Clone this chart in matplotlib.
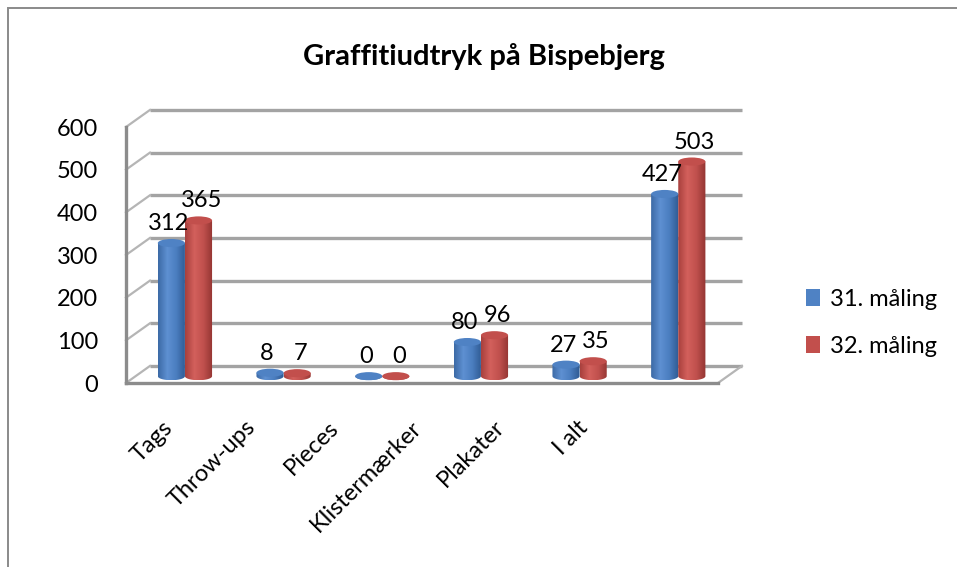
import numpy as np
import matplotlib
matplotlib.use('Agg')
import matplotlib.pyplot as plt
from matplotlib.patches import Ellipse, Rectangle, PathPatch, Patch
from matplotlib.path import Path
from matplotlib.colors import LinearSegmentedColormap

categories = ['Tags', 'Throw-ups', 'Pieces', 'Klistermærker', 'Plakater', 'I alt']
maaling_31 = [312, 8, 0, 80, 27, 427]
maaling_32 = [365, 7, 0, 96, 35, 503]
series_names = ['31. måling', '32. måling']
y_ticks = [0, 100, 200, 300, 400, 500, 600]
title = 'Graffitiudtryk på Bispebjerg'

W, H = 957, 567
plt.rcParams['font.family'] = ['Lato', 'DejaVu Sans']


def fx(px):
    return px / W


def fy(py):
    return 1 - py / H


fig = plt.figure(figsize=(W / 100, H / 100), dpi=100)

# chart area border (only top and left edges are inside the picture)
fig.patches.append(Rectangle((fx(8), -0.1), 1.2, fy(8) + 0.1, transform=fig.transFigure,
                             facecolor='none', edgecolor='#8a8a8a', lw=1.4))

# front plane of the 3d box
ax = fig.add_axes([fx(126), fy(383), fx(718) - fx(126), fy(127) - fy(383)])
n = len(categories)
DX, DY = 0.243, 40      # offset of the back wall, in data units
DEPTH = 0.4             # where the cylinders sit between front and back
GRID = '#a3a3a3'

# back wall gridlines + side wall diagonals
for v in y_ticks:
    ax.plot([DX, n + DX], [v + DY, v + DY], color=GRID, lw=2.4, solid_capstyle='butt',
            zorder=1, clip_on=False)
    ax.plot([0, DX], [v, v + DY], color='#b5b5b5', lw=1.6, zorder=1, clip_on=False)
# left axis and floor
ax.plot([0, 0], [0, y_ticks[-1]], color='#8c8c8c', lw=2.4, zorder=2, clip_on=False)
ax.plot([0, n], [0, 0], color='#8c8c8c', lw=2.4, zorder=5, clip_on=False)
ax.plot([n, n + DX], [0, DY], color='#b5b5b5', lw=1.6, zorder=1, clip_on=False)

blue = LinearSegmentedColormap.from_list('b', ['#3c6aa6', '#5e90d2', '#4a7dbf', '#2f5a92'])
red = LinearSegmentedColormap.from_list('r', ['#a8403d', '#d3605c', '#c0504d', '#933532'])
styles = [(maaling_31, blue, '#4f82c4'), (maaling_32, red, '#c24f4c')]

w = 0.275
eh = 19
base = DEPTH * DY
grad_x = np.linspace(0, 1, 64)


def cylinder(xc, h, cmap, top_col):
    xl, xr = xc - w / 2, xc + w / 2
    t = np.linspace(np.pi, 2 * np.pi, 40)
    verts = list(zip(xc + w / 2 * np.cos(t), base + eh / 2 * np.sin(t)))
    verts += [(xr, base + h), (xl, base + h), verts[0]]
    clip = PathPatch(Path(verts), transform=ax.transData, facecolor='none', edgecolor='none')
    ax.add_patch(clip)
    im = ax.imshow(cmap(grad_x)[None, :, :], extent=[xl, xr, base - eh / 2, base + h],
                   aspect='auto', interpolation='bilinear', zorder=3)
    im.set_clip_path(clip)
    ax.add_patch(Ellipse((xc, base + h), w, eh, facecolor=top_col, edgecolor='none', zorder=3.1))


for s, (vals, cmap, top_col) in enumerate(styles):
    for i, v in enumerate(vals):
        xc = i + 0.5 + (s - 0.5) * w + DEPTH * DX
        cylinder(xc, v, cmap, top_col)
        ax.annotate(str(v), (xc + (s - 0.5) * 0.06, base + v), xytext=(0, 14),
                    textcoords='offset points', ha='center', va='center', fontsize=17, zorder=6)

ax.set_xlim(0, n)
ax.set_ylim(0, y_ticks[-1])
ax.set_xticks([])
ax.set_yticks(y_ticks)
ax.tick_params(axis='y', length=0, pad=20, labelsize=17)
for sp in ax.spines.values():
    sp.set_visible(False)
ax.patch.set_alpha(0)

# rotated category labels
for i, c in enumerate(categories):
    fig.text(fx(169 + 83 * i), fy(424), c, rotation=45, rotation_mode='anchor',
             ha='right', va='center', fontsize=17)

fig.text(fx(484), fy(57), title, ha='center', va='center', fontsize=21, fontweight='bold')

handles = [Patch(facecolor=st[2]) for st in styles]
fig.legend(handles, series_names, loc='center left', bbox_to_anchor=(fx(806), fy(323)),
           frameon=False, fontsize=17, handlelength=0.6, handleheight=0.7,
           handletextpad=0.4, labelspacing=1.1, borderpad=0, borderaxespad=0)

fig.savefig('out.png', dpi=100)
